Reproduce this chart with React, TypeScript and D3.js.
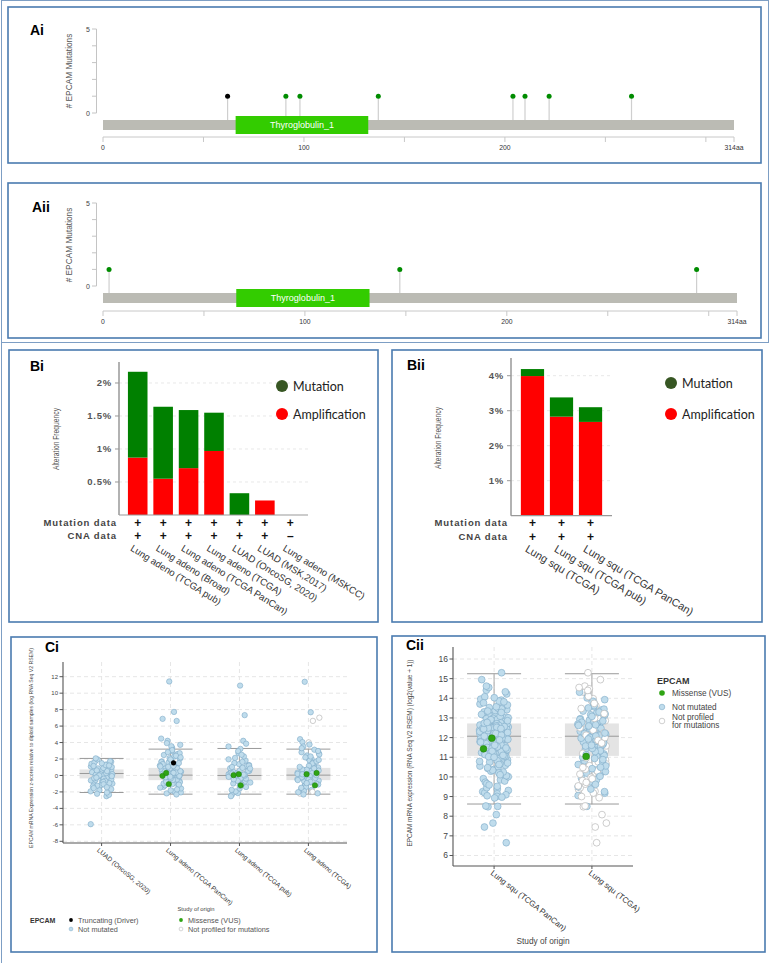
import React from "react";
import * as d3 from "d3";

const FONT = "'Liberation Sans', Arial, Helvetica, sans-serif";
const LEGEND_FONT = "Lato, 'Open Sans', sans-serif";
const PANEL_STROKE = "#4a7bb0";

// ================= A: lollipop data =================
const proteinLength = 314;
const domainName = "Thyroglobulin_1";
const domainStart = 66;
const domainEnd = 132;
const lolliYMax = 5;
const lolliTicks = [0, 50, 100, 150, 200, 250, 300, 314];
const lolliTickLabels = ["0", "", "100", "", "200", "", "", "314aa"];
const aiPositions = [62, 91, 98, 137, 204, 210, 222, 263];
const aiCounts = [1, 1, 1, 1, 1, 1, 1, 1];
const aiTypes = ["Truncating", "Missense", "Missense", "Missense", "Missense", "Missense", "Missense", "Missense"];
const aiiPositions = [3, 147, 294];
const aiiCounts = [1, 1, 1];
const aiiTypes = ["Missense", "Missense", "Missense"];

// ================= B: alteration frequency data =================
const biStudies = [
  "Lung adeno (TCGA pub)",
  "Lung adeno (Broad)",
  "Lung adeno (TCGA PanCan)",
  "Lung adeno (TCGA)",
  "LUAD (OncoSG, 2020)",
  "LUAD (MSK,2017)",
  "Lung adeno (MSKCC)",
];
const biAmplification = [0.87, 0.55, 0.71, 0.97, 0, 0.22, 0];
const biMutation = [1.3, 1.09, 0.88, 0.58, 0.33, 0, 0];
const biMutData = ["+", "+", "+", "+", "+", "+", "+"];
const biCnaData = ["+", "+", "+", "+", "+", "+", "–"];
const biTicks = [0.5, 1, 1.5, 2];
const biTickLabels = ["0.5%", "1%", "1.5%", "2%"];

const biiStudies = ["Lung squ (TCGA)", "Lung squ (TCGA pub)", "Lung squ (TCGA PanCan)"];
const biiAmplification = [3.99, 2.83, 2.68];
const biiMutation = [0.2, 0.55, 0.42];
const biiMutData = ["+", "+", "+"];
const biiCnaData = ["+", "+", "+"];
const biiTicks = [1, 2, 3, 4];
const biiTickLabels = ["1%", "2%", "3%", "4%"];

// ================= Ci: z-score expression data =================
const ciStudies = ["LUAD (OncoSG, 2020)", "Lung adeno (TCGA PanCan)", "Lung adeno (TCGA pub)", "Lung adeno (TCGA)"];
const ciStats = [
  [-2.07, -0.36, 0.24, 0.73, 2.07],
  [-2.27, -0.57, 0.04, 0.92, 3.2],
  [-2.27, -0.57, 0.0, 0.92, 3.28],
  [-2.27, -0.57, 0.04, 0.92, 3.2],
];
const ciOnco = [2.08, 1.95, 1.86, 1.74, 1.66, 1.58, 1.49, 1.42, 1.35, 1.28, 1.21, 1.15, 1.09, 1.03, 0.97, 0.92, 0.86, 0.81, 0.76, 0.71, 0.66, 0.62, 0.57, 0.53, 0.48, 0.44, 0.4, 0.36, 0.32, 0.28, 0.24, 0.2, 0.16, 0.12, 0.08, 0.04, 0.0, -0.04, -0.08, -0.12, -0.16, -0.21, -0.25, -0.3, -0.34, -0.39, -0.44, -0.49, -0.54, -0.6, -0.66, -0.72, -0.78, -0.85, -0.92, -0.99, -1.07, -1.15, -1.24, -1.33, -1.43, -1.54, -1.66, -1.79, -1.93, -2.08, -2.22, -2.35, -2.52, -5.92];
const ciPanCan = [4.48, 4.21, 3.93, 3.72, 3.55, 3.38, 3.22, 3.08, 2.95, 2.83, 2.71, 2.6, 2.49, 2.39, 2.29, 2.2, 2.11, 2.02, 1.94, 1.86, 1.78, 1.71, 1.64, 1.57, 1.5, 1.44, 1.38, 1.32, 1.26, 1.2, 1.15, 1.1, 1.05, 1.0, 0.95, 0.9, 0.86, 0.81, 0.77, 0.72, 0.68, 0.64, 0.6, 0.56, 0.52, 0.48, 0.44, 0.4, 0.36, 0.32, 0.28, 0.24, 0.2, 0.16, 0.12, 0.08, 0.04, 0.0, -0.04, -0.08, -0.12, -0.16, -0.21, -0.25, -0.3, -0.34, -0.39, -0.44, -0.49, -0.54, -0.59, -0.65, -0.71, -0.77, -0.83, -0.9, -0.97, -1.04, -1.12, -1.2, -1.29, -1.38, -1.48, -1.58, -1.69, -1.81, -1.93, -2.06, -2.18, -2.31, 6.62, 6.88, 7.72, 11.42];
const ciPub = [4.21, 3.86, 3.52, 3.23, 2.96, 2.72, 2.51, 2.31, 2.13, 1.96, 1.8, 1.65, 1.51, 1.38, 1.26, 1.2, 1.14, 1.03, 0.93, 0.88, 0.84, 0.75, 0.67, 0.59, 0.55, 0.51, 0.44, 0.37, 0.3, 0.28, 0.23, 0.16, 0.12, 0.1, 0.03, -0.03, -0.1, -0.17, -0.24, -0.31, -0.35, -0.39, -0.47, -0.56, -0.62, -0.65, -0.75, -0.86, -0.98, -1.0, -1.11, -1.25, -1.4, -1.57, -1.75, -1.94, -2.14, -2.33, -2.52, 7.33, 10.92];
const ciTcga = [4.41, 4.05, 3.76, 3.52, 3.31, 3.13, 2.97, 2.82, 2.68, 2.55, 2.43, 2.31, 2.2, 2.09, 1.99, 1.89, 1.8, 1.71, 1.62, 1.54, 1.46, 1.38, 1.31, 1.24, 1.17, 1.1, 1.04, 0.98, 0.92, 0.86, 0.8, 0.75, 0.7, 0.64, 0.59, 0.54, 0.49, 0.44, 0.39, 0.34, 0.29, 0.24, 0.19, 0.14, 0.09, 0.04, -0.01, -0.06, -0.11, -0.16, -0.21, -0.27, -0.32, -0.38, -0.44, -0.5, -0.56, -0.63, -0.7, -0.77, -0.85, -0.93, -1.01, -1.1, -1.19, -1.29, -1.39, -1.5, -1.62, -1.75, -1.89, -2.03, -2.17, -2.31, 7.68, 11.38];
const ciTcgaNotProfiled = [7.02, 6.63, 4.02, -1.98, -2.21];
const ciMissenseStudy = [1, 1, 1, 2, 2, 2, 3, 3, 3];
const ciMissenseValue = [-1.05, -0.05, 0.3, 0.16, 0.04, -1.2, 0.3, 0.16, -1.2];
const ciTruncStudy = [1];
const ciTruncValue = [1.53];
const ciTicks = [-8, -6, -4, -2, 0, 2, 4, 6, 8, 10, 12];

// ================= Cii: log2 expression data =================
const ciiStudies = ["Lung squ (TCGA PanCan)", "Lung squ (TCGA)"];
const ciiStats = [
  [8.62, 11.07, 12.07, 12.72, 15.25],
  [8.62, 11.07, 12.07, 12.72, 15.25],
];
const ciiPanCan = [14.62, 14.55, 14.41, 14.33, 14.22, 14.08, 14.03, 13.96, 13.91, 13.86, 13.82, 13.77, 13.71, 13.66, 13.62, 13.57, 13.53, 13.49, 13.46, 13.42, 13.38, 13.35, 13.31, 13.28, 13.24, 13.21, 13.18, 13.15, 13.12, 13.09, 13.06, 13.04, 13.01, 12.98, 12.96, 12.93, 12.91, 12.88, 12.86, 12.84, 12.81, 12.79, 12.77, 12.75,
  12.73, 12.71, 12.69, 12.67, 12.66, 12.64, 12.62, 12.61, 12.59, 12.57, 12.56, 12.54, 12.52, 12.51, 12.49, 12.47, 12.46, 12.44, 12.42, 12.41, 12.39, 12.37, 12.36, 12.34, 12.32, 12.31, 12.29, 12.27, 12.26, 12.24, 12.22, 12.21, 12.19, 12.18, 12.16, 12.15, 12.13, 12.12, 12.11, 12.1, 12.09, 12.08, 12.07,
  12.05, 12.02, 11.99, 11.97, 11.94, 11.91, 11.88, 11.86, 11.83, 11.8, 11.77, 11.75, 11.72, 11.69, 11.66, 11.64, 11.61, 11.58, 11.55, 11.53, 11.5, 11.47, 11.44, 11.42, 11.39, 11.36, 11.33, 11.31, 11.28, 11.26, 11.23, 11.21, 11.19, 11.17, 11.15, 11.13, 11.11, 11.1, 11.09, 11.08, 11.06, 11.05, 11.03,
  11.0, 10.95, 10.91, 10.87, 10.83, 10.79, 10.75, 10.71, 10.67, 10.63, 10.59, 10.55, 10.51, 10.47, 10.43, 10.38, 10.34, 10.29, 10.25, 10.2, 10.15, 10.11, 10.06, 10.01, 9.96, 9.91, 9.85, 9.79, 9.73, 9.66, 9.59, 9.52, 9.45, 9.38, 9.31, 9.25, 9.19, 9.14, 9.09, 9.04, 9.01, 8.97, 8.93,
  15.3, 14.95, 8.52, 8.5, 8.48, 8.08, 7.65, 7.45, 6.65];
const ciiTcga = [14.31, 14.12, 14.02, 13.93, 13.85, 13.78, 13.7, 13.63, 13.57, 13.51, 13.45, 13.4, 13.35, 13.3, 13.25, 13.2, 13.16, 13.12, 13.08, 13.04, 13.0, 12.96, 12.92, 12.88, 12.85, 12.81, 12.78, 12.74, 12.71, 12.68, 12.65, 12.62, 12.59, 12.56, 12.53, 12.5, 12.47, 12.44, 12.41, 12.38, 12.35, 12.32, 12.29, 12.26, 12.23, 12.2, 12.17, 12.14, 12.11, 12.08, 12.05, 12.01, 11.97, 11.93, 11.89, 11.85, 11.81, 11.77, 11.73, 11.69, 11.65, 11.61, 11.57, 11.53, 11.49, 11.45, 11.41, 11.37, 11.33, 11.29, 11.25, 11.21, 11.17, 11.13, 11.09, 11.05, 11.0, 10.94, 10.88, 10.82, 10.76, 10.7, 10.63, 10.56, 10.49, 10.42, 10.35, 10.27, 10.19, 10.11, 10.03, 9.94, 9.85, 9.75, 9.62, 9.5, 9.38, 9.25, 9.17, 9.05, 8.5];
const ciiTcgaNotProfiled = [15.3, 14.95, 14.62, 14.55, 14.48, 14.4, 14.3, 14.21, 14.1, 13.98, 13.88, 13.74, 13.62, 13.48, 13.36, 13.22, 13.1, 12.98, 12.86, 12.74, 12.62, 12.5, 12.38, 12.25, 12.12, 12.0, 11.86, 11.72, 11.58, 11.45, 11.32, 11.2, 11.08, 10.97, 10.86, 10.76, 10.66, 10.57, 10.48, 10.39, 10.3, 10.22, 10.14, 10.06, 9.98, 9.9, 9.81, 9.72, 9.63, 9.54, 9.45, 9.36, 9.27, 9.18, 9.09, 9.0, 8.94, 8.52, 8.48, 8.08, 7.65, 7.45, 6.65];
const ciiMissenseStudy = [0, 0, 1];
const ciiMissenseValue = [11.97, 11.43, 11.04];
const ciiTicks = [6, 7, 8, 9, 10, 11, 12, 13, 14, 15, 16];

// ================= colours =================
const C_MUT_BAR = "#008000";
const C_AMP = "#ff0000";
const C_MUT_LEG = "#375623";
const C_BLUE_FILL = "#bfdcec";
const C_BLUE_STROKE = "#7fabc8";
const C_GREEN = "#2fa414";

// deterministic horizontal jitter (layout only), in [-0.5, 0.5)
const jit = (i: number, seed: number) => {
  const s = Math.sin((i + 1) * 12.9898 + seed * 78.233) * 43758.5453;
  return s - Math.floor(s) - 0.5;
};

function PanelBox({ b }: { b: number[] }) {
  return <rect x={b[0]} y={b[1]} width={b[2]} height={b[3]} fill="#fff" stroke={PANEL_STROKE} strokeWidth={1.6} />;
}

// ================= Lollipop panel =================
function Lollipop({ cfg, positions, counts, types }: any) {
  const x = d3.scaleLinear().domain([0, proteinLength]).range([cfg.x0, cfg.x1]);
  const y = d3.scaleLinear().domain([0, lolliYMax]).range([cfg.yZero, cfg.yTop]);
  const yTicks = d3.range(0, lolliYMax + 1);
  return (
    <g>
      <PanelBox b={cfg.box} />
      <text x={cfg.titleX} y={cfg.titleY} fontSize={14} fontWeight="bold" fill="#000">{cfg.title}</text>
      <line x1={96.5} x2={96.5} y1={y(lolliYMax)} y2={y(0)} stroke="#c4c4c4" />
      {yTicks.map((t) => (
        <line key={t} x1={92} x2={96.5} y1={y(t)} y2={y(t)} stroke="#c4c4c4" />
      ))}
      {[0, lolliYMax].map((t) => (
        <text key={t} x={90} y={y(t) + 2.5} fontSize={7} textAnchor="end" fill="#444">{t}</text>
      ))}
      <text transform={`translate(71.5,${cfg.labelCY}) rotate(-90)`} fontSize={8.3} textAnchor="middle" fill="#555">
        # EPCAM Mutations
      </text>
      {positions.map((p: number, i: number) => (
        <line key={i} x1={x(p)} x2={x(p)} y1={y(counts[i])} y2={cfg.barTop} stroke="#cfcfcf" strokeWidth={1.2} />
      ))}
      <rect x={x(0)} y={cfg.barTop} width={x(proteinLength) - x(0)} height={10} fill="#bbbbb4" />
      <rect x={x(domainStart)} y={cfg.domTop} width={x(domainEnd) - x(domainStart)} height={18} fill="#33cc00" />
      <text x={(x(domainStart) + x(domainEnd)) / 2} y={cfg.domTop + 12.3} fontSize={9} fill="#fff" textAnchor="middle">
        {domainName}
      </text>
      {positions.map((p: number, i: number) => (
        <circle key={i} cx={x(p)} cy={y(counts[i])} r={2.5} fill={types[i] === "Truncating" ? "#000" : "#008c00"} />
      ))}
      <line x1={x(0)} x2={x(proteinLength)} y1={cfg.axisY} y2={cfg.axisY} stroke="#c8c8c8" />
      {lolliTicks.map((t, i) => (
        <g key={t}>
          <line x1={x(t)} x2={x(t)} y1={cfg.axisY} y2={cfg.axisY + 5} stroke="#c8c8c8" />
          {lolliTickLabels[i] && (
            <text x={x(t)} y={cfg.axisY + 12.5} fontSize={6.8} textAnchor="middle" fill="#333">{lolliTickLabels[i]}</text>
          )}
        </g>
      ))}
    </g>
  );
}

// ================= Stacked bar panel =================
function StackedBars({ cfg, studies, amp, mut, mutData, cnaData, ticks, tickLabels }: any) {
  const x = d3.scaleBand().domain(studies).range(cfg.xRange).paddingInner(cfg.pi).paddingOuter(cfg.po);
  const y = d3.scaleLinear().domain([0, cfg.yMax]).range([cfg.yZero, cfg.yTop]);
  const bw = x.bandwidth();
  return (
    <g>
      <PanelBox b={cfg.box} />
      <text x={cfg.titleX} y={cfg.titleY} fontSize={14} fontWeight="bold" fill="#000">{cfg.title}</text>
      {ticks.map((t: number) => (
        <line key={t} x1={cfg.axisX} x2={cfg.gridRight} y1={y(t)} y2={y(t)} stroke="#e8e8e8" strokeDasharray="3,3" />
      ))}
      {studies.map((s: string, i: number) => (
        <g key={s}>
          {amp[i] > 0 && <rect x={x(s)} y={y(amp[i])} width={bw} height={y(0) - y(amp[i])} fill={C_AMP} />}
          {mut[i] > 0 && (
            <rect x={x(s)} y={y(amp[i] + mut[i])} width={bw} height={y(amp[i]) - y(amp[i] + mut[i])} fill={C_MUT_BAR} />
          )}
        </g>
      ))}
      <line x1={cfg.axisX} x2={cfg.axisX} y1={cfg.yTop} y2={y(0)} stroke="#999" strokeWidth={1.5} />
      <line x1={cfg.axisX} x2={cfg.axisRight} y1={y(0)} y2={y(0)} stroke="#999" strokeWidth={1.2} />
      {ticks.map((t: number, i: number) => (
        <g key={t}>
          <line x1={cfg.axisX - 4} x2={cfg.axisX} y1={y(t)} y2={y(t)} stroke="#999" />
          <text x={cfg.axisX - 7} y={y(t) + 3.4} fontSize={9.5} fontWeight="bold" fill="#555" textAnchor="end" letterSpacing={0.8}>
            {tickLabels[i]}
          </text>
        </g>
      ))}
      <text
        transform={`translate(${cfg.labelCX + 3.5},${cfg.labelCY}) rotate(-90)`}
        fontSize={9.5}
        fill="#555"
        textAnchor="middle"
        textLength={62}
        lengthAdjust="spacingAndGlyphs"
      >
        Alteration Frequency
      </text>
      {/* legend */}
      <circle cx={cfg.legendX} cy={cfg.legendY[0]} r={6} fill={C_MUT_LEG} />
      <text x={cfg.legendX + 11} y={cfg.legendY[0] + 4.5} fontSize={12.5} fill="#222" fontFamily={LEGEND_FONT}>Mutation</text>
      <circle cx={cfg.legendX} cy={cfg.legendY[1]} r={6} fill={C_AMP} />
      <text x={cfg.legendX + 11} y={cfg.legendY[1] + 4.5} fontSize={12.5} fill="#222" fontFamily={LEGEND_FONT}>Amplification</text>
      {/* data availability rows */}
      <text x={cfg.rowLabelX} y={cfg.rowY[0] + 3.4} fontSize={9.5} fontWeight="bold" fill="#444" textAnchor="end" letterSpacing={0.9}>
        Mutation data
      </text>
      <text x={cfg.rowLabelX} y={cfg.rowY[1] + 3.4} fontSize={9.5} fontWeight="bold" fill="#444" textAnchor="end" letterSpacing={0.9}>
        CNA data
      </text>
      {studies.map((s: string, i: number) => (
        <g key={"r" + s}>
          <text x={(x(s) as number) + bw / 2} y={cfg.rowY[0] + 4.2} fontSize={12} fontWeight="bold" textAnchor="middle" fill="#111">
            {mutData[i]}
          </text>
          <text x={(x(s) as number) + bw / 2} y={cfg.rowY[1] + 4.2} fontSize={12} fontWeight="bold" textAnchor="middle" fill="#111">
            {cnaData[i]}
          </text>
          <text
            transform={`translate(${(x(s) as number) + bw / 2 - 8},${cfg.labelY}) rotate(${cfg.labelAngle})`}
            fontSize={cfg.labelFont}
            fill="#333"
          >
            {s}
          </text>
        </g>
      ))}
    </g>
  );
}

// ================= Box + scatter panel =================
function BoxScatter({ cfg, studies, stats, blue, white, misStudy, misValue, truncStudy, truncValue }: any) {
  const x = d3.scalePoint().domain(studies).range([cfg.axisX, cfg.axisRight]).padding(cfg.pad);
  const y = d3.scaleLinear().domain(cfg.yDomain).range(cfg.yRange);
  const cx = (i: number) => x(studies[i]) as number;
  // merge profiled / not-profiled samples of each study, drawn in an interleaved order
  const pts: { si: number; v: number; kind: string; dx: number; order: number }[] = [];
  studies.forEach((_: string, si: number) => {
    (blue[si] || []).forEach((v: number, k: number) =>
      pts.push({ si, v, kind: "b", dx: jit(k, 0.3 + si * 1.7), order: jit(k, 5.1 + si) })
    );
    (white[si] || []).forEach((v: number, k: number) =>
      pts.push({ si, v, kind: "w", dx: jit(k, 3.7 + si), order: jit(k, 8.3 + si) })
    );
  });
  pts.sort((a, b) => a.order - b.order);
  return (
    <g>
      {cfg.ticks.map((t: number) => (
        <line key={"h" + t} x1={cfg.axisX} x2={cfg.axisRight} y1={y(t)} y2={y(t)} stroke="#e6e6e6" strokeDasharray="4,3" />
      ))}
      {studies.map((s: string, i: number) => (
        <line key={"v" + s} x1={cx(i)} x2={cx(i)} y1={cfg.axisTop} y2={cfg.axisBottom} stroke="#e6e6e6" strokeDasharray="4,3" />
      ))}
      {stats.map((st: number[], i: number) => (
        <g key={"b" + i}>
          <line x1={cx(i)} x2={cx(i)} y1={y(st[4])} y2={y(st[0])} stroke="#aaa" />
          <rect x={cx(i) - cfg.boxHalf} y={y(st[3])} width={2 * cfg.boxHalf} height={y(st[1]) - y(st[3])} fill="#e4e4e4" />
          <line x1={cx(i) - cfg.boxHalf} x2={cx(i) + cfg.boxHalf} y1={y(st[2])} y2={y(st[2])} stroke="#999" />
          <line x1={cx(i) - cfg.boxHalf} x2={cx(i) + cfg.boxHalf} y1={y(st[4])} y2={y(st[4])} stroke="#999" />
          <line x1={cx(i) - cfg.boxHalf} x2={cx(i) + cfg.boxHalf} y1={y(st[0])} y2={y(st[0])} stroke="#999" />
        </g>
      ))}
      {pts.map((p, k) => (
        <circle
          key={"p" + k}
          cx={cx(p.si) + p.dx * cfg.jitterW}
          cy={y(p.v)}
          r={cfg.r}
          fill={p.kind === "b" ? C_BLUE_FILL : "#fff"}
          stroke={p.kind === "b" ? C_BLUE_STROKE : "#b8b8b8"}
          strokeWidth={p.kind === "b" ? 0.6 : 0.7}
        />
      ))}
      {misStudy.map((si: number, k: number) => (
        <circle key={"m" + k} cx={cx(si) + jit(k, 9.1) * cfg.jitterW * 0.8} cy={y(misValue[k])} r={cfg.r} fill={C_GREEN} stroke="#1d7d0a" strokeWidth={0.5} />
      ))}
      {truncStudy.map((si: number, k: number) => (
        <circle key={"t" + k} cx={cx(si) + 3} cy={y(truncValue[k])} r={cfg.r * 0.95} fill="#000" />
      ))}
      {/* axes */}
      <line x1={cfg.axisX} x2={cfg.axisX} y1={cfg.axisTop} y2={cfg.axisBottom} stroke="#555" strokeWidth={1.1} />
      <line x1={cfg.axisX} x2={cfg.axisRight} y1={cfg.axisBottom} y2={cfg.axisBottom} stroke="#555" strokeWidth={1.1} />
      {cfg.ticks.map((t: number) => (
        <g key={"t" + t}>
          <line x1={cfg.axisX - 3.5} x2={cfg.axisX} y1={y(t)} y2={y(t)} stroke="#555" />
          <text x={cfg.axisX - 5} y={y(t) + cfg.tickFont * 0.35} fontSize={cfg.tickFont} textAnchor="end" fill="#444">{t}</text>
        </g>
      ))}
      {studies.map((s: string, i: number) => (
        <g key={"x" + s}>
          <line x1={cx(i)} x2={cx(i)} y1={cfg.axisBottom} y2={cfg.axisBottom + 3} stroke="#555" />
          <text
            transform={`translate(${cx(i) + cfg.labelDx},${cfg.axisBottom + cfg.labelDy}) rotate(${cfg.labelAngle})`}
            fontSize={cfg.labelFont}
            fill="#333"
          >
            {s}
          </text>
        </g>
      ))}
      <text
        transform={`translate(${cfg.yLabelX},${cfg.yLabelY}) rotate(-90)`}
        fontSize={cfg.yLabelFont}
        textAnchor="middle"
        fill="#444"
        textLength={cfg.yLabelLen}
        lengthAdjust="spacingAndGlyphs"
      >
        {cfg.yLabel}
      </text>
    </g>
  );
}

export default function App() {
  const aiCfg = { box: [8, 7, 753, 156], title: "Ai", titleX: 30, titleY: 35, x0: 103, x1: 734, yTop: 29, yZero: 113, barTop: 120, domTop: 116, axisY: 137, labelCY: 71 };
  const aiiCfg = { box: [8, 183, 753, 155], title: "Aii", titleX: 32, titleY: 212, x0: 103, x1: 737, yTop: 203, yZero: 286, barTop: 293, domTop: 289, axisY: 311, labelCY: 245 };
  const biCfg = {
    box: [9, 350, 369, 272], title: "Bi", titleX: 30, titleY: 371,
    xRange: [125, 303], pi: 0.23, po: 0.115, axisX: 119, axisRight: 308, gridRight: 308,
    yZero: 515, yTop: 362, yMax: 2.318, labelCX: 55, labelCY: 439,
    legendX: 282, legendY: [386, 414], rowLabelX: 117, rowY: [523, 536],
    labelY: 550, labelAngle: 32, labelFont: 9.6,
  };
  const biiCfg = {
    box: [392, 350, 370, 272], title: "Bii", titleX: 407, titleY: 370,
    xRange: [511, 612], pi: 0.2, po: 0.34, axisX: 511, axisRight: 612, gridRight: 610,
    yZero: 515.7, yTop: 358, yMax: 4.506, labelCX: 437, labelCY: 438,
    legendX: 671, legendY: [383, 414], rowLabelX: 508, rowY: [523, 537],
    labelY: 551, labelAngle: 31, labelFont: 10.8,
  };
  const ciCfg = {
    axisX: 63, axisRight: 347, axisTop: 662, axisBottom: 843, pad: 0.56,
    yDomain: [-8, 12], yRange: [841.3, 676.7], ticks: ciTicks, tickFont: 6,
    boxHalf: 22, jitterW: 22, r: 2.7,
    labelDx: -5, labelDy: 8, labelAngle: 40, labelFont: 6.6,
    yLabel: "EPCAM mRNA Expression z-scores relative to diploid samples (log RNA Seq V2 RSEM)",
    yLabelX: 33, yLabelY: 748, yLabelFont: 5.2, yLabelLen: 200,
  };
  const ciiCfg = {
    axisX: 453, axisRight: 633, axisTop: 647, axisBottom: 866, pad: 0.42,
    yDomain: [6, 16], yRange: [855.5, 659], ticks: ciiTicks, tickFont: 8.5,
    boxHalf: 27, jitterW: 29, r: 3.4,
    labelDx: -4, labelDy: 8, labelAngle: 38, labelFont: 8,
    yLabel: "EPCAM mRNA expression (RNA Seq V2 RSEM) (log2(value + 1))",
    yLabelX: 412, yLabelY: 753, yLabelFont: 6.8, yLabelLen: 187,
  };

  return (
    <svg
      width={771}
      height={963}
      viewBox="0 0 771 963"
      style={{ position: "absolute", left: 0, top: 0, display: "block" }}
      fontFamily={FONT}
    >
      <rect width={771} height={963} fill="#fff" />
      <rect x={1.5} y={0.5} width={767} height={342} fill="none" stroke="#7d9ec4" strokeWidth={1} />
      <line x1={1.5} x2={1.5} y1={342} y2={963} stroke="#7d9ec4" strokeWidth={1} />

      <Lollipop cfg={aiCfg} positions={aiPositions} counts={aiCounts} types={aiTypes} />
      <Lollipop cfg={aiiCfg} positions={aiiPositions} counts={aiiCounts} types={aiiTypes} />

      <StackedBars cfg={biCfg} studies={biStudies} amp={biAmplification} mut={biMutation} mutData={biMutData} cnaData={biCnaData} ticks={biTicks} tickLabels={biTickLabels} />
      <StackedBars cfg={biiCfg} studies={biiStudies} amp={biiAmplification} mut={biiMutation} mutData={biiMutData} cnaData={biiCnaData} ticks={biiTicks} tickLabels={biiTickLabels} />

      {/* Ci */}
      <PanelBox b={[11, 637, 366, 315]} />
      <text x={45} y={652} fontSize={14} fontWeight="bold" fill="#000">Ci</text>
      <BoxScatter
        cfg={ciCfg}
        studies={ciStudies}
        stats={ciStats}
        blue={[ciOnco, ciPanCan, ciPub, ciTcga]}
        white={[[], [], [], ciTcgaNotProfiled]}
        misStudy={ciMissenseStudy}
        misValue={ciMissenseValue}
        truncStudy={ciTruncStudy}
        truncValue={ciTruncValue}
      />
      <text x={196} y={911} fontSize={5.8} textAnchor="middle" fill="#444">Study of origin</text>
      <text x={30} y={922.5} fontSize={7} fontWeight="bold" fill="#333">EPCAM</text>
      <circle cx={71} cy={920} r={1.9} fill="#000" />
      <text x={78} y={922.5} fontSize={7.3} fill="#555">Truncating (Driver)</text>
      <circle cx={71} cy={929} r={1.9} fill={C_BLUE_FILL} stroke={C_BLUE_STROKE} strokeWidth={0.5} />
      <text x={78} y={931.5} fontSize={7.3} fill="#555">Not mutated</text>
      <circle cx={181} cy={920} r={1.9} fill={C_GREEN} />
      <text x={188} y={922.5} fontSize={7.3} fill="#555">Missense (VUS)</text>
      <circle cx={181} cy={929} r={1.9} fill="#fff" stroke="#bbb" strokeWidth={0.6} />
      <text x={188} y={931.5} fontSize={7.3} fill="#555">Not profiled for mutations</text>

      {/* Cii */}
      <PanelBox b={[392, 636, 373, 316]} />
      <text x={406} y={650} fontSize={14} fontWeight="bold" fill="#000">Cii</text>
      <BoxScatter
        cfg={ciiCfg}
        studies={ciiStudies}
        stats={ciiStats}
        blue={[ciiPanCan, ciiTcga]}
        white={[[], ciiTcgaNotProfiled]}
        misStudy={ciiMissenseStudy}
        misValue={ciiMissenseValue}
        truncStudy={[]}
        truncValue={[]}
      />
      <text x={543} y={944} fontSize={8.3} textAnchor="middle" fill="#444">Study of origin</text>
      <text x={657} y={683.5} fontSize={9} fontWeight="bold" fill="#333">EPCAM</text>
      <circle cx={662} cy={693} r={2.8} fill={C_GREEN} />
      <text x={672} y={696} fontSize={8.2} fill="#444">Missense (VUS)</text>
      <circle cx={662} cy={707} r={2.8} fill={C_BLUE_FILL} stroke={C_BLUE_STROKE} strokeWidth={0.6} />
      <text x={672} y={710} fontSize={8.2} fill="#444">Not mutated</text>
      <circle cx={662} cy={721} r={2.8} fill="#fff" stroke="#bbb" strokeWidth={0.7} />
      <text x={672} y={719.5} fontSize={8.2} fill="#444">Not profiled</text>
      <text x={672} y={727.5} fontSize={8.2} fill="#444">for mutations</text>
    </svg>
  );
}
